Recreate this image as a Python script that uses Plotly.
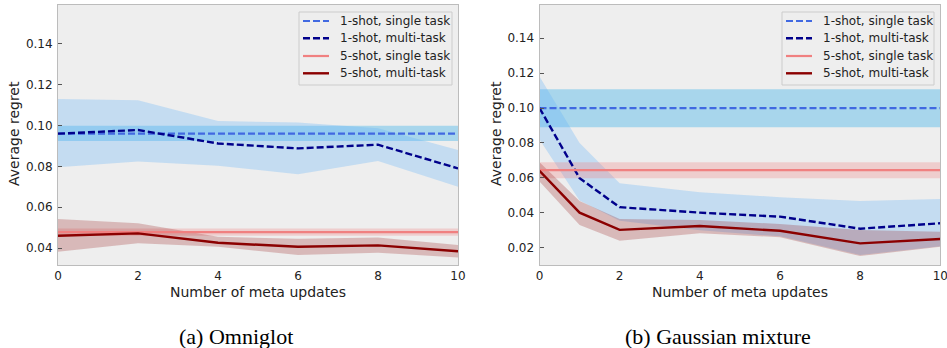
import plotly.graph_objects as go

# ---------------- data ----------------
# (a) Omniglot
om_x = [0, 2, 4, 6, 8, 10]
om_1s_single = [0.096, 0.096, 0.096, 0.096, 0.096, 0.096]
om_1s_single_lo = [0.0924] * 6
om_1s_single_hi = [0.0999] * 6
om_1s_multi = [0.096, 0.0978, 0.0912, 0.0888, 0.0906, 0.079]
om_1s_multi_hi = [0.113, 0.1124, 0.1022, 0.1015, 0.0986, 0.088]
om_1s_multi_lo = [0.0795, 0.0824, 0.0803, 0.0761, 0.0826, 0.070]
om_5s_single = [0.0478] * 6
om_5s_single_hi = [0.0496] * 6
om_5s_single_lo = [0.0460] * 6
om_5s_multi = [0.046, 0.0472, 0.0426, 0.0406, 0.0413, 0.0384]
om_5s_multi_hi = [0.0542, 0.0521, 0.0455, 0.0446, 0.0452, 0.0415]
om_5s_multi_lo = [0.0382, 0.0423, 0.0406, 0.0366, 0.0377, 0.0354]

# (b) Gaussian mixture
gm_x = [0, 1, 2, 4, 6, 8, 10]
gm_1s_single = [0.0999] * 7
gm_1s_single_hi = [0.1108] * 7
gm_1s_single_lo = [0.0890] * 7
gm_1s_multi = [0.100, 0.0598, 0.0432, 0.0401, 0.0378, 0.0309, 0.034]
gm_1s_multi_hi = [0.118, 0.0799, 0.0569, 0.0518, 0.0489, 0.0468, 0.0479]
gm_1s_multi_lo = [0.082, 0.047, 0.0355, 0.0300, 0.0265, 0.0158, 0.0208]
gm_5s_single = [0.0644] * 7
gm_5s_single_hi = [0.0690] * 7
gm_5s_single_lo = [0.0598] * 7
gm_5s_multi = [0.0640, 0.0401, 0.0302, 0.0324, 0.0297, 0.0225, 0.025]
gm_5s_multi_hi = [0.0690, 0.0468, 0.0365, 0.0359, 0.0336, 0.0302, 0.0292]
gm_5s_multi_lo = [0.0579, 0.033, 0.024, 0.0283, 0.026, 0.0152, 0.0206]

x_ticks = [0, 2, 4, 6, 8, 10]
om_y_ticks = [0.04, 0.06, 0.08, 0.10, 0.12, 0.14]
gm_y_ticks = [0.02, 0.04, 0.06, 0.08, 0.10, 0.12, 0.14]

names = ["1-shot, single task", "1-shot, multi-task", "5-shot, single task", "5-shot, multi-task"]
captions = ["(a) Omniglot", "(b) Gaussian mixture"]
y_title = "Average regret"
x_title = "Number of meta updates"

# ---------------- styles ----------------
W, H = 947, 348
BG = "#eeeeee"
EDGE = "#bcbcbc"
FONT = "DejaVu Sans"
TXT = "#222222"
line_styles = [
    dict(color="#4169e1", width=2.2, dash="7px,3px"),
    dict(color="#00008b", width=2.4, dash="7px,3px"),
    dict(color="#f08080", width=2.2),
    dict(color="#8b0000", width=2.4),
]
band_colors = [
    "rgba(63,178,233,0.40)",
    "rgba(100,178,250,0.30)",
    "rgba(240,128,128,0.30)",
    "rgba(139,0,0,0.22)",
]

fig = go.Figure()

panels = [
    dict(x=om_x, xa="x", ya="y",
         series=[(om_1s_single, om_1s_single_lo, om_1s_single_hi),
                 (om_1s_multi, om_1s_multi_lo, om_1s_multi_hi),
                 (om_5s_single, om_5s_single_lo, om_5s_single_hi),
                 (om_5s_multi, om_5s_multi_lo, om_5s_multi_hi)]),
    dict(x=gm_x, xa="x2", ya="y2",
         series=[(gm_1s_single, gm_1s_single_lo, gm_1s_single_hi),
                 (gm_1s_multi, gm_1s_multi_lo, gm_1s_multi_hi),
                 (gm_5s_single, gm_5s_single_lo, gm_5s_single_hi),
                 (gm_5s_multi, gm_5s_multi_lo, gm_5s_multi_hi)]),
]

for p in panels:
    xs = p["x"]
    for i, (mid, lo, hi) in enumerate(p["series"]):
        fig.add_trace(go.Scatter(
            x=list(xs) + list(xs)[::-1], y=list(hi) + list(lo)[::-1],
            fill="toself", fillcolor=band_colors[i], line=dict(width=0),
            mode="lines", hoverinfo="skip", showlegend=False,
            xaxis=p["xa"], yaxis=p["ya"]))
    for i, (mid, lo, hi) in enumerate(p["series"]):
        fig.add_trace(go.Scatter(
            x=xs, y=mid, mode="lines", name=names[i], line=line_styles[i],
            showlegend=False, xaxis=p["xa"], yaxis=p["ya"]))

# domains (pixel based)
ydom = [1 - 265 / H, 1 - 5 / H]
xdom1 = [58 / W, 458 / W]
xdom2 = [539.5 / W, 940.3 / W]

axis_common = dict(showline=True, mirror=True, linecolor=EDGE, linewidth=1,
                   showgrid=False, zeroline=False, automargin=False,
                   ticklabeloverflow="allow",
                   tickfont=dict(family=FONT, size=12, color=TXT))
yaxis_common = dict(tickformat=".2f", ticks="inside", ticklen=4, tickcolor="#555555",
                    tickwidth=1, ticklabelstandoff=2)

fig.update_layout(
    width=W, height=H, margin=dict(l=0, r=0, t=0, b=0, autoexpand=False),
    paper_bgcolor="white", plot_bgcolor=BG, showlegend=False,
    font=dict(family=FONT, size=12, color=TXT),
    xaxis=dict(domain=xdom1, range=[0, 10], tickvals=x_ticks, ticks="",
               anchor="y", **axis_common),
    yaxis=dict(domain=ydom, range=[0.0317, 0.159], tickvals=om_y_ticks,
               anchor="x", **yaxis_common, **axis_common),
    xaxis2=dict(domain=xdom2, range=[0, 10], tickvals=x_ticks, ticks="",
                anchor="y2", **axis_common),
    yaxis2=dict(domain=ydom, range=[0.0101, 0.159], tickvals=gm_y_ticks,
                anchor="x2", **yaxis_common, **axis_common),
)

# ---------------- legends (one box per panel) ----------------
shapes = []
annotations = []
row_y = [21, 38.3, 56, 73.3]
for box_left, box_right in [(299, 452), (782, 934)]:
    shapes.append(dict(type="rect", xref="paper", yref="paper", layer="above",
                       x0=box_left / W, x1=box_right / W, y0=1 - 85 / H, y1=1 - 12 / H,
                       fillcolor="rgba(238,238,238,0.8)", line=dict(color="#cccccc", width=1)))
    for i, ry in enumerate(row_y):
        st = line_styles[i]
        shapes.append(dict(type="line", xref="paper", yref="paper", layer="above",
                           x0=(box_left + 4) / W, x1=(box_left + 30) / W,
                           y0=1 - ry / H, y1=1 - ry / H,
                           line=dict(color=st["color"], width=st["width"],
                                     dash=st.get("dash", "solid"))))
        annotations.append(dict(text=names[i], x=(box_left + 39) / W, y=1 - ry / H,
                                xref="paper", yref="paper", showarrow=False,
                                xanchor="left", yanchor="middle",
                                font=dict(family=FONT, size=12, color=TXT)))

for cx, ytx in [(258, 14), (739.7, 496)]:
    annotations.append(dict(text=x_title, x=cx / W, y=1 - 292 / H, xref="paper", yref="paper",
                            showarrow=False, xanchor="center", yanchor="middle",
                            font=dict(family=FONT, size=14, color=TXT)))
    annotations.append(dict(text=y_title, x=ytx / W, y=1 - 134 / H, xref="paper", yref="paper",
                            showarrow=False, xanchor="center", yanchor="middle", textangle=-90,
                            font=dict(family=FONT, size=14, color=TXT)))
for cx, cap in [(236, captions[0]), (718, captions[1])]:
    annotations.append(dict(text=cap, x=cx / W, y=1 - 336 / H, xref="paper", yref="paper",
                            showarrow=False, xanchor="center", yanchor="middle",
                            font=dict(family="Liberation Serif", size=22, color="#000000")))
fig.update_layout(shapes=shapes, annotations=annotations)

fig.write_html("out.html", config={"displayModeBar": False},
               post_script="document.body.style.margin='0px';")
